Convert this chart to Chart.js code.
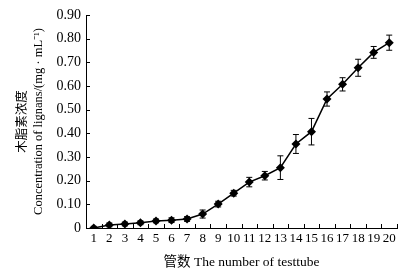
<!DOCTYPE html>
<html>
<head>
<meta charset="utf-8">
<script src="https://cdn.jsdelivr.net/npm/chart.js@4"></script>
<style>
  html, body { margin: 0; padding: 0; background: #fff; }
  #wrap { width: 416px; height: 275px; }
</style>
</head>
<body>
<div id="wrap"><canvas id="chart"></canvas></div>
<script>
const tubeLabels = ['1', '2', '3', '4', '5', '6', '7', '8', '9', '10',
    '11', '12', '13', '14', '15', '16', '17', '18', '19', '20'];
const concentration = [0, 0.013, 0.017, 0.022, 0.030, 0.033, 0.038, 0.059, 0.101, 0.147,
    0.194, 0.221, 0.255, 0.355, 0.407, 0.545, 0.607, 0.677, 0.742, 0.783];
const errorValues = [0.007, 0.008, 0.008, 0.008, 0.008, 0.010, 0.010, 0.017, 0.012, 0.012,
    0.020, 0.018, 0.050, 0.040, 0.056, 0.030, 0.028, 0.036, 0.025, 0.032];
const yTicks = [0, 0.1, 0.2, 0.3, 0.4, 0.5, 0.6, 0.7, 0.8, 0.9];

const serif = '"Liberation Serif", "Noto Sans CJK SC", serif';

// error bars and inward tick marks
const extrasPlugin = {
    id: 'extras',
    afterDatasetsDraw(chart) {
        const { ctx, scales: { x, y } } = chart;
        ctx.save();
        ctx.strokeStyle = '#000';
        ctx.lineWidth = 1;
        concentration.forEach((v, i) => {
            const px = x.getPixelForValue(i);
            const top = y.getPixelForValue(v + errorValues[i]);
            const bottom = y.getPixelForValue(Math.max(0, v - errorValues[i]));
            ctx.beginPath();
            ctx.moveTo(px, top);
            ctx.lineTo(px, bottom);
            ctx.moveTo(px - 3, top);
            ctx.lineTo(px + 3, top);
            ctx.moveTo(px - 3, bottom);
            ctx.lineTo(px + 3, bottom);
            ctx.stroke();
        });
        // inward ticks
        ctx.beginPath();
        y.ticks.forEach((t, i) => {
            const py = Math.round(y.getPixelForTick(i)) + 0.5;
            ctx.moveTo(y.right, py);
            ctx.lineTo(y.right + 4, py);
        });
        const step = x.width / tubeLabels.length;
        for (let i = 0; i <= tubeLabels.length; i++) {
            const px = Math.round(x.left + i * step) + 0.5;
            ctx.moveTo(px, x.top);
            ctx.lineTo(px, x.top - 4);
        }
        ctx.stroke();
        ctx.restore();
    }
};

new Chart(document.getElementById('chart'), {
    type: 'line',
    data: {
        labels: tubeLabels,
        datasets: [{
            data: concentration,
            borderColor: '#000',
            backgroundColor: '#000',
            borderWidth: 1.5,
            pointStyle: 'rectRot',
            pointRadius: 4.5,
            pointBorderWidth: 0,
            tension: 0,
            fill: false
        }]
    },
    options: {
        responsive: true,
        maintainAspectRatio: false,
        animation: false,
        devicePixelRatio: 1,
        layout: { padding: { left: 15, right: 19, top: 15, bottom: 4 } },
        plugins: {
            legend: { display: false },
            tooltip: { enabled: false }
        },
        scales: {
            x: {
                type: 'category',
                offset: true,
                grid: { display: false, drawTicks: false },
                border: { display: true, color: '#000', width: 1 },
                ticks: {
                    color: '#000',
                    padding: 3,
                    maxRotation: 0,
                    autoSkip: false,
                    font: { family: serif, size: 13 }
                },
                title: {
                    display: true,
                    text: '管数 The number of testtube',
                    color: '#000',
                    padding: { top: 6, bottom: 0 },
                    font: { family: serif, size: 13.5 }
                },
                afterFit: scale => { scale.height = 43; }
            },
            y: {
                min: 0,
                max: 0.9,
                afterBuildTicks: scale => {
                    scale.ticks = yTicks.map(v => ({ value: v }));
                },
                grid: { display: false, drawTicks: false },
                border: { display: true, color: '#000', width: 1 },
                ticks: {
                    color: '#000',
                    padding: 5,
                    font: { family: serif, size: 14 },
                    callback: v => v === 0 ? '0' : v.toFixed(2)
                },
                title: {
                    display: true,
                    text: ['木脂素浓度', 'Concentration of lignans/(mg · mL⁻¹)'],
                    color: '#000',
                    padding: { top: 0, bottom: 0 },
                    font: { family: serif, size: 12.5, lineHeight: 1.25 }
                },
                afterFit: scale => { scale.width = 71; }
            }
        }
    },
    plugins: [extrasPlugin]
});
</script>
</body>
</html>
